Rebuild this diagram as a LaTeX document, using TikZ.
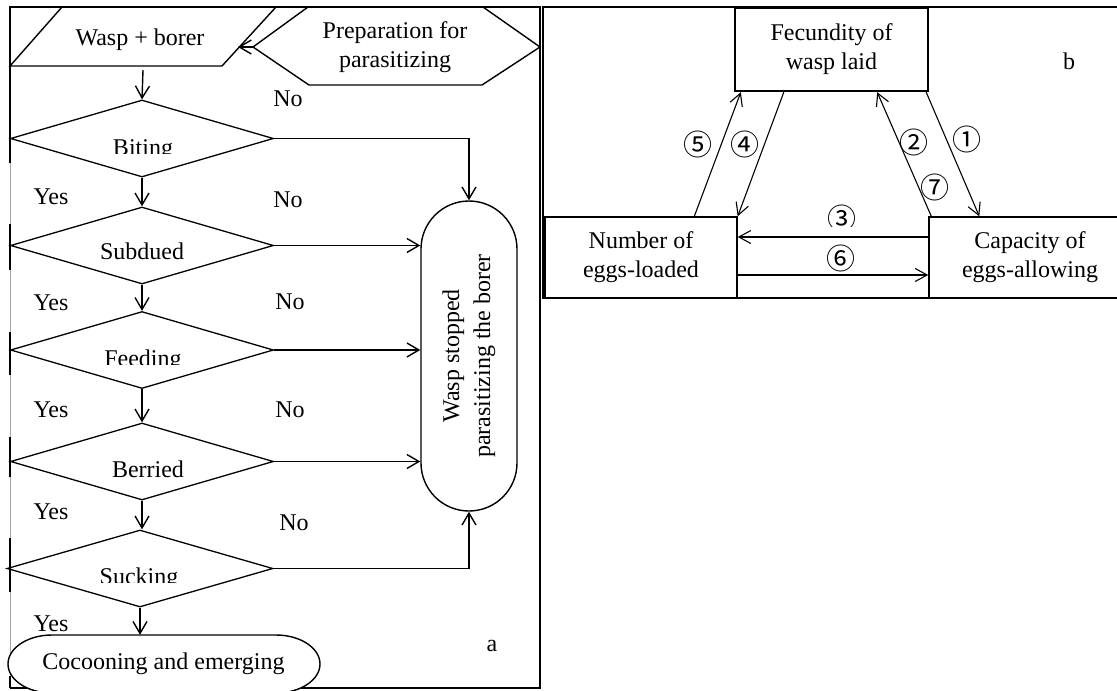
\documentclass[tikz,border=0pt]{standalone}
\usepackage{fontspec}
\setmainfont{Liberation Serif}
\newfontfamily\circfont{Noto Sans CJK SC}
\usetikzlibrary{shapes.geometric,shapes.misc,arrows.meta,calc}
\begin{document}
\begin{tikzpicture}[x=1pt,y=-1pt,
  every node/.style={font=\fontsize{24}{29}\selectfont, inner sep=0pt},
  ln/.style={line width=1.4pt},
  arr/.style={line width=1.4pt, -{Straight Barb[length=12pt,width=14pt,line width=1.4pt]}},
  arrb/.style={line width=1.1pt, -{Straight Barb[length=12pt,width=13pt,line width=1.1pt]}},
  dia/.style={diamond, draw, line width=1.3pt, minimum width=263pt, minimum height=77pt, inner sep=0pt},
  box/.style={rectangle, draw, line width=1.4pt, align=center},
  circ/.style={font=\circfont\fontsize{29}{29}\selectfont}]
\useasboundingbox (0,0) rectangle (1117,691);
\clip (0,0) rectangle (1117,691);
% frame a
\draw[ln] (10,163) -- (10,7) -- (540,7) -- (540,688) -- (10,688);
\draw[line width=0.8pt, black!35] (10,163) -- (10,688);
\foreach \a/\b in {224/270,332/375,437/477,538/592,676/688} \draw[ln] (10,\a) -- (10,\b);
% frame b
\draw[ln] (1140,7) -- (543,7) -- (543,298) -- (1140,298);
% parallelogram
\coordinate (wBL) at (10,66);
\coordinate (wTL) at (62,7);
\coordinate (wTR) at (276,7);
\coordinate (wBR) at (222,66);
\coordinate (waspR) at (238,47);
\coordinate (wB) at (143,70);
\draw[ln] (wBL) -- (wTL) -- (wTR) -- (wBR) -- cycle;
\node (wasp) at (140,40) {Wasp + borer};
% hexagon
\coordinate (hL) at (253,47);
\coordinate (hTL) at (308,7);
\coordinate (hTR) at (483,7);
\coordinate (hR) at (540,47);
\coordinate (hBR) at (482,85);
\coordinate (hBL) at (309,85);
\draw[ln] (hL) -- (hTL) -- (hTR) -- (hR) -- (hBR) -- (hBL) -- cycle;
\node[align=center] (prep) at (395,47) {Preparation for\\parasitizing};
\draw[arr] (hL) -- (waspR);
% diamonds
\node[dia] (bit) at (142,138.5) {};
\node[dia] (sub) at (142,245.5) {};
\node[dia] (feed) at (142,350) {};
\node[dia] (ber) at (142,461.5) {};
\node[dia, minimum width=266pt] (suck) at (140,568.5) {};
\begin{scope}
\clip (90,120) rectangle (200,153.5);
\node[anchor=base] (bitT) at (143,155) {Biting};
\end{scope}
\node[anchor=base] (subT) at (142,259) {Subdued};
\begin{scope}
\clip (90,330) rectangle (200,364.5);
\node[anchor=base] (feedT) at (143,366) {Feeding};
\end{scope}
\node[anchor=base] (berT) at (148,477) {Berried};
\begin{scope}
\clip (90,550) rectangle (200,582);
\node[anchor=base] (suckT) at (139,584) {Sucking};
\end{scope}
% stop node
\node[draw, ln, rounded corners=48pt, minimum width=96pt, minimum height=310pt] (stop) at (469,356) {};
\node[rotate=90, align=center, font=\fontsize{24}{31}\selectfont] (stopT) at (stop.center) {Wasp stopped\\parasitizing the borer};
% cocooning
\draw[ln, fill=white] (52,635) -- (276,635) arc[start angle=-90, end angle=90, x radius=44, y radius=29] -- (52,693) arc[start angle=90, end angle=270, x radius=44, y radius=29] -- cycle;
\node[minimum width=313pt, minimum height=58pt] (coc) at (163.5,664) {Cocooning and emerging};
% vertical arrows
\draw[arr] (wB) -- (bit.north);
\draw[arr] (bit.south) -- (sub.north);
\draw[arr] (sub.south) -- (feed.north);
\draw[arr] (feed.south) -- (ber.north);
\draw[arr] (ber.south) -- (ber.south |- suck.north);
\draw[arr] (suck.south) -- (suck.south |- coc.north);
% No connectors
\draw[arr, line width=1.8pt] (bit.east) -| (stop.north);
\draw[arr] (sub.east) -- (sub.east -| stop.west);
\draw[arr] (feed.east) -- (feed.east -| stop.west);
\draw[arr] (ber.east) -- (ber.east -| stop.west);
\draw[arr, line width=1.8pt] (suck.east) -| (stop.south);
% labels
\foreach \y [count=\i] in {197,303,410,512,624} \node (yes\i) at (51,\y) {Yes};
\foreach \x/\y [count=\i] in {288/99,288/200,290/302,290/410,294/523} \node (no\i) at (\x,\y) {No};
\node (la) at (492,646) {a};
% panel b
\node[box, line width=2.4pt, minimum width=193pt, minimum height=83pt] (fec) at (831.5,49.5) {Fecundity of\\wasp laid};
\node[box, minimum width=192pt, minimum height=81pt] (num) at (641,257.5) {Number of\\eggs-loaded};
\node[box, minimum width=202pt, minimum height=81pt] (cap) at (1030,257.5) {Capacity of\\eggs-allowing};
\node (lb) at (1069,61) {b};
\draw[arrb] ([xshift=150pt]num.north west) -- ([xshift=7pt]fec.south west);
\draw[arrb] ([xshift=50pt]fec.south west) -- (num.north east);
\draw[arrb] ([xshift=-3pt]fec.south east) -- ([xshift=51pt]cap.north west);
\draw[arrb] ([xshift=3pt]cap.north west) -- ([xshift=-52pt]fec.south east);
\draw[arrb] ([yshift=20.5pt]cap.west) -- ([yshift=20.5pt]num.east);
\draw[arrb] ([yshift=-17.5pt]num.east) -- ([yshift=-17.5pt]cap.west);
\node[circ] (c1) at (967,139) {①};
\node[circ] (c2) at (914,142) {②};
\node[circ] (c7) at (935,187) {⑦};
\node[circ] (c4) at (745,144) {④};
\node[circ] (c5) at (698,144) {⑤};
\node[circ] (c6) at (841,258) {⑥};
\begin{scope}
\clip (800,190) rectangle (880,226);
\node[circ] (c3) at (842,218) {③};
\end{scope}
\end{tikzpicture}
\end{document}
